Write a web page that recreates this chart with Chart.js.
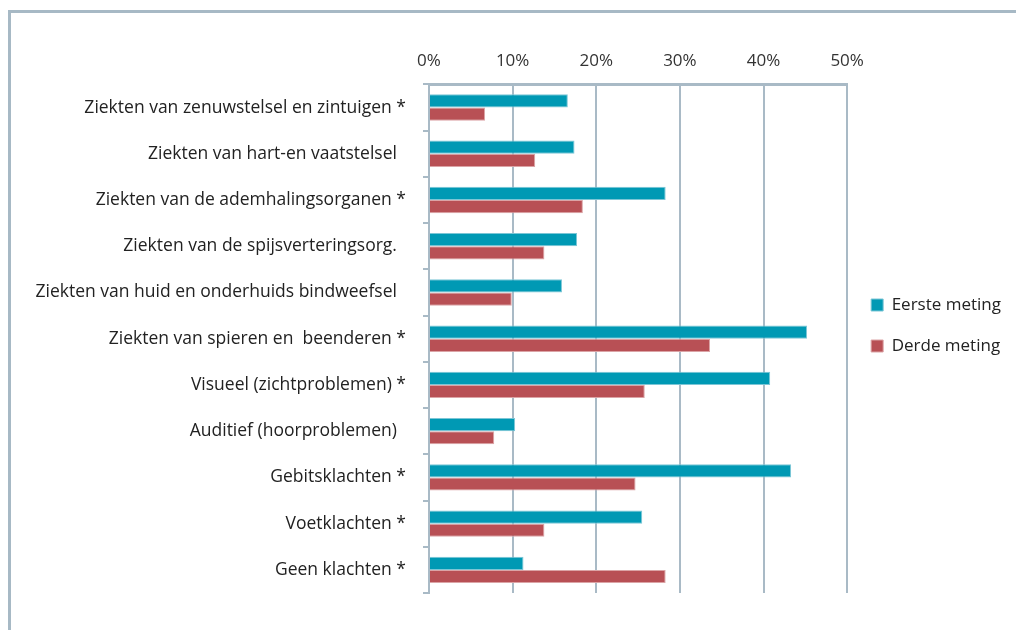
<!DOCTYPE html>
<html>
<head>
<meta charset="utf-8">
<script src="https://cdn.jsdelivr.net/npm/chart.js@4"></script>
<style>
    html, body { margin: 0; padding: 0; background: #ffffff; }
    #wrap { position: relative; width: 1016px; height: 630px; overflow: hidden; }
    #frame {
        position: absolute; left: 8px; top: 10px; width: 1100px; height: 700px;
        border-top: 3px solid #a7b9c5; border-left: 3px solid #a7b9c5;
    }
    #chart { position: absolute; left: 0; top: 0; }
</style>
</head>
<body>
<div id="wrap">
    <div id="frame"></div>
    <canvas id="chart" width="1016" height="630"></canvas>
</div>
<script>
// Catégories (axe vertical)
const categories = [
    "Ziekten van zenuwstelsel en zintuigen *",
    "Ziekten van hart-en vaatstelsel  ",
    "Ziekten van de ademhalingsorganen *",
    "Ziekten van de spijsverteringsorg.  ",
    "Ziekten van huid en onderhuids bindweefsel  ",
    "Ziekten van spieren en  beenderen *",
    "Visueel (zichtproblemen) *",
    "Auditief (hoorproblemen)  ",
    "Gebitsklachten *",
    "Voetklachten *",
    "Geen klachten *"
];

// Valeurs en %
const eersteMeting = [16.6, 17.4, 28.3, 17.7, 15.9, 45.2, 40.8, 10.3, 43.3, 25.5, 11.3];
const derdeMeting = [6.7, 12.7, 18.4, 13.8, 9.9, 33.6, 25.8, 7.8, 24.7, 13.8, 28.3];

const seriesNames = ["Eerste meting", "Derde meting"];
const tickValues = [0, 10, 20, 30, 40, 50];

const gridColor = "#a9bac6";
const fontFamily = "'Open Sans', Lato, sans-serif";

const ctx = document.getElementById("chart").getContext("2d");

new Chart(ctx, {
    type: "bar",
    data: {
        labels: categories,
        datasets: [
            {
                label: seriesNames[0],
                data: eersteMeting,
                backgroundColor: "#0099b4",
                borderColor: "#7cc6d6",
                borderWidth: 1,
                categoryPercentage: 0.57,
                barPercentage: 1.0,
            },
            {
                label: seriesNames[1],
                data: derdeMeting,
                backgroundColor: "#b85055",
                borderColor: "#dba4a6",
                borderWidth: 1,
                categoryPercentage: 0.57,
                barPercentage: 1.0,
            },
        ],
    },
    options: {
        indexAxis: "y",
        responsive: false,
        animation: false,
        layout: {
            padding: { top: 38, bottom: 37, left: 20, right: 5 },
        },
        plugins: {
            tooltip: { enabled: false },
            legend: {
                position: "right",
                align: "center",
                // titre vide pour décaler la légende vers le bas
                title: {
                    display: true,
                    text: " ",
                    padding: 4,
                    font: { family: fontFamily, size: 10, lineHeight: 1.2 },
                },
                labels: {
                    boxWidth: 12,
                    boxHeight: 12,
                    padding: 24,
                    color: "#222222",
                    font: { family: fontFamily, size: 17 },
                },
            },
        },
        scales: {
            x: {
                position: "top",
                min: 0,
                max: 50,
                afterBuildTicks: (scale) => {
                    scale.ticks = tickValues.map((v) => ({ value: v }));
                },
                ticks: {
                    callback: (v) => v + "%",
                    color: "#333333",
                    padding: 13,
                    font: { family: fontFamily, size: 17 },
                },
                grid: {
                    color: gridColor,
                    lineWidth: 2,
                    drawTicks: false,
                },
                border: { color: gridColor, width: 3 },
            },
            y: {
                afterFit: (scale) => {
                    scale.width = 409;
                },
                ticks: {
                    color: "#222222",
                    padding: 17,
                    font: { family: fontFamily, size: 17.5 },
                },
                grid: {
                    offset: true,
                    drawOnChartArea: false,
                    color: gridColor,
                    lineWidth: 2,
                    tickLength: 6,
                },
                border: { color: gridColor, width: 2 },
            },
        },
    },
});
</script>
</body>
</html>
